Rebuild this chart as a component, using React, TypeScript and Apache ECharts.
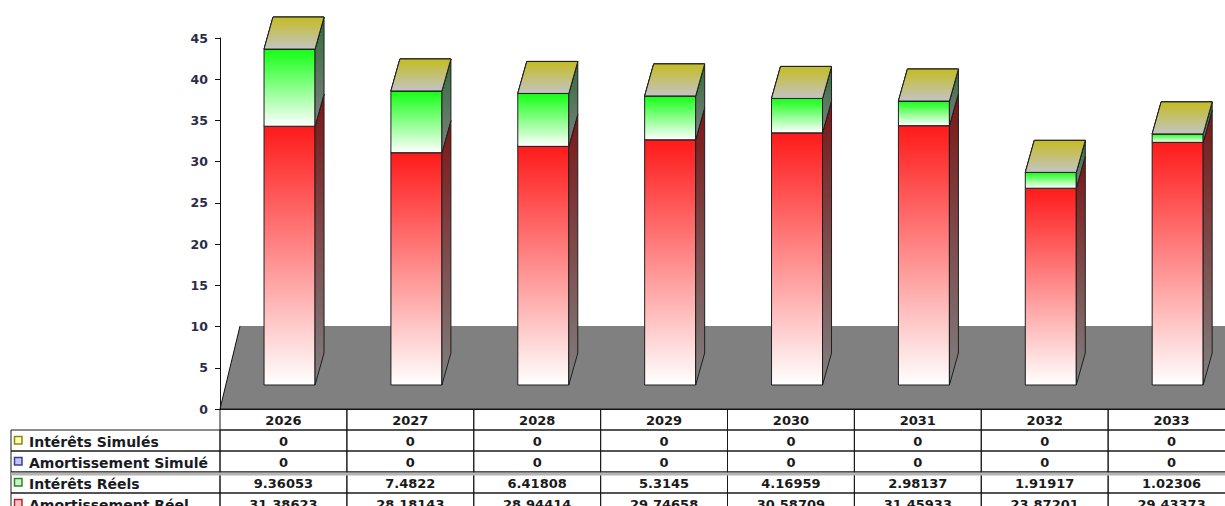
import React, { useEffect, useRef } from "react";
import * as echarts from "echarts";

// ---------- data ----------
const categories = ["2026", "2027", "2028", "2029", "2030", "2031", "2032", "2033"];
const interetsSimules = [0, 0, 0, 0, 0, 0, 0, 0];
const amortissementSimule = [0, 0, 0, 0, 0, 0, 0, 0];
const interetsReels = [9.36053, 7.4822, 6.41808, 5.3145, 4.16959, 2.98137, 1.91917, 1.02306];
const amortissementReel = [31.38623, 28.18143, 28.94414, 29.74658, 30.58709, 31.45933, 23.87201, 29.43373];
const yMin = 0;
const yMax = 45;
const yStep = 5;

// table rows (top to bottom)
const tableRows = [
  { name: "Intérêts Simulés", values: interetsSimules, iconFill: "#ffffb4", iconStroke: "#8c8a10" },
  { name: "Amortissement Simulé", values: amortissementSimule, iconFill: "#c4c4f4", iconStroke: "#3c3c9c" },
  { name: "Intérêts Réels", values: interetsReels, iconFill: "#c8f4c8", iconStroke: "#2a8a2a" },
  { name: "Amortissement Réel", values: amortissementReel, iconFill: "#f8c4c4", iconStroke: "#c02424" },
];

// stacking (bottom to top)
const stackOrder = [
  { name: "Amortissement Réel", values: amortissementReel, front: "#ff1a1a", side: "#7c1616", top: ["#c43a3a", "#c0c0c0"] },
  { name: "Intérêts Réels", values: interetsReels, front: "#14ff14", side: "#2f6e3a", top: ["#4aa84a", "#c0c0c0"] },
  { name: "Amortissement Simulé", values: amortissementSimule, front: "#3a3aff", side: "#20207a", top: ["#5a5ab8", "#c0c0c0"] },
  { name: "Intérêts Simulés", values: interetsSimules, front: "#ffff1a", side: "#7a7a16", top: ["#c4bc22", "#c4c4c4"] },
];

// ---------- geometry / style constants ----------
const FONT = "DejaVu Sans";
const DX = 9; // depth offset x
const DY = 32; // depth offset y
const LIFT = 24; // bars sit this far back on the floor
const BAR_W = 51;
const BAR_SHIFT = -19.4; // front-left edge relative to category centre
const FLOOR_DX = 20;
const FLOOR_DY = 83;
const EDGE = "#1e1e1e";
const HEADER_H = 21;
const ROW_H = 21;
const LABEL_X0 = 11;

function grad(c0: string, c1: string) {
  return new echarts.graphic.LinearGradient(0, 0, 0, 1, [
    { offset: 0, color: c0 },
    { offset: 1, color: c1 },
  ]);
}

function makeBarRenderer(s: (typeof stackOrder)[number]) {
  return (params: any, api: any) => {
    const i = api.value(0);
    const lo = api.value(1);
    const hi = api.value(2);
    const pLo = api.coord([i, lo]);
    const pHi = api.coord([i, hi]);
    const x = pLo[0] + BAR_SHIFT;
    const yb = pLo[1] - LIFT;
    const yt = pHi[1] - LIFT;
    const children: any[] = [];
    if (yb - yt > 0.3) {
      children.push({
        type: "rect",
        shape: { x, y: yt, width: BAR_W, height: yb - yt },
        style: { fill: grad(s.front, "#ffffff"), stroke: EDGE, lineWidth: 1 },
      });
      children.push({
        type: "polygon",
        shape: {
          points: [
            [x + BAR_W, yt],
            [x + BAR_W + DX, yt - DY],
            [x + BAR_W + DX, yb - DY],
            [x + BAR_W, yb],
          ],
        },
        style: { fill: grad(s.side, "#808080"), stroke: EDGE, lineWidth: 1 },
      });
    }
    children.push({
      type: "polygon",
      shape: {
        points: [
          [x, yt],
          [x + DX, yt - DY],
          [x + BAR_W + DX, yt - DY],
          [x + BAR_W, yt],
        ],
      },
      style: { fill: grad(s.top[0], s.top[1]), stroke: EDGE, lineWidth: 1 },
    });
    return { type: "group", children };
  };
}

export default function App() {
  const ref = useRef<HTMLDivElement>(null);

  useEffect(() => {
    if (!ref.current) return;
    const chart = echarts.init(ref.current, null, { renderer: "svg" });

    // stacked ranges
    const cum = categories.map(() => 0);
    const barSeries = stackOrder.map((s) => {
      const data = categories.map((_, i) => {
        const lo = cum[i];
        const hi = lo + s.values[i];
        cum[i] = hi;
        return [i, lo, hi];
      });
      return {
        type: "custom",
        name: s.name,
        z: 3,
        renderItem: makeBarRenderer(s),
        encode: { x: 0, y: [1, 2] },
        data,
      };
    });

    const floorSeries = {
      type: "custom",
      name: "floor",
      z: 1,
      silent: true,
      renderItem: (params: any, api: any) => {
        const cs = params.coordSys;
        const left = cs.x;
        const bottom = cs.y + cs.height;
        const right = api.getWidth();
        return {
          type: "group",
          children: [
            {
              type: "polygon",
              shape: {
                points: [
                  [left, bottom],
                  [left + FLOOR_DX, bottom - FLOOR_DY],
                  [right, bottom - FLOOR_DY],
                  [right, bottom],
                ],
              },
              style: { fill: "#808080" },
            },
            {
              type: "line",
              shape: { x1: left, y1: bottom, x2: left + FLOOR_DX, y2: bottom - FLOOR_DY },
              style: { stroke: "#111", lineWidth: 1 },
            },
          ],
        };
      },
      data: [[0, 0]],
    };

    const tableSeries = {
      type: "custom",
      name: "table",
      z: 4,
      silent: true,
      clip: false,
      renderItem: (params: any, api: any) => {
        const i = api.value(0);
        const c = api.coord([i, 0]);
        const w = api.size([1, 0])[0];
        const x0 = c[0] - w / 2;
        const top = c[1];
        const children: any[] = [];
        children.push({
          type: "rect",
          shape: { x: x0, y: top, width: w, height: HEADER_H },
          style: { fill: "none", stroke: "#1a1a1a", lineWidth: 1 },
        });
        tableRows.forEach((row, r) => {
          const y = top + HEADER_H + r * ROW_H;
          children.push({
            type: "rect",
            shape: { x: x0, y, width: w, height: ROW_H },
            style: { fill: "none", stroke: "#1a1a1a", lineWidth: 1 },
          });
          children.push({
            type: "text",
            style: {
              x: c[0],
              y: y + ROW_H / 2 + 1,
              text: String(row.values[i]),
              fill: "#1a1a1a",
              font: `bold 13px "${FONT}"`,
              align: "center",
              verticalAlign: "middle",
            },
          });
        });
        return { type: "group", children };
      },
      data: categories.map((_, i) => [i, 0]),
    };

    // label column of the table
    const tableTop = 409 + HEADER_H;
    const labelGraphics: any[] = [];
    tableRows.forEach((row, r) => {
      const y = tableTop + r * ROW_H;
      labelGraphics.push({
        type: "rect",
        shape: { x: LABEL_X0, y, width: 220 - LABEL_X0, height: ROW_H },
        style: { fill: "none", stroke: "#1a1a1a", lineWidth: 1 },
      });
      labelGraphics.push({
        type: "rect",
        shape: { x: 14.5, y: y + 6.5, width: 7.5, height: 7.5 },
        style: { fill: row.iconFill, stroke: row.iconStroke, lineWidth: 1.5 },
      });
      labelGraphics.push({
        type: "text",
        style: {
          x: 29,
          y: y + ROW_H / 2 + 1,
          text: row.name,
          fill: "#1a1a24",
          font: `bold 14px "${FONT}"`,
          align: "left",
          verticalAlign: "middle",
        },
      });
    });
    // gray separator between simulated and real rows
    labelGraphics.push({
      type: "line",
      shape: { x1: LABEL_X0, y1: tableTop + 2 * ROW_H + 2, x2: 1225, y2: tableTop + 2 * ROW_H + 2 },
      style: { stroke: "#b4b4b4", lineWidth: 3 },
      z: 10,
    });

    chart.setOption({
      animation: false,
      textStyle: { fontFamily: FONT },
      grid: {
        left: 220,
        top: 38,
        width: 1015,
        height: 371,
        containLabel: false,
        outerBoundsMode: "none",
      },
      xAxis: {
        type: "category",
        data: categories,
        boundaryGap: true,
        axisLine: { show: true, lineStyle: { color: "#111", width: 1 } },
        axisTick: { show: false },
        axisLabel: {
          show: true,
          interval: 0,
          margin: 5,
          color: "#1a1a1a",
          fontFamily: FONT,
          fontWeight: "bold",
          fontSize: 13,
        },
        splitLine: { show: false },
        z: 5,
      },
      yAxis: {
        type: "value",
        min: yMin,
        max: yMax,
        interval: yStep,
        axisLine: { show: true, lineStyle: { color: "#111", width: 1 } },
        axisTick: { show: true, length: 5, lineStyle: { color: "#111" } },
        axisLabel: {
          margin: 12,
          color: "#2c2c48",
          fontFamily: FONT,
          fontWeight: "bold",
          fontSize: 12.5,
        },
        splitLine: { show: false },
        z: 5,
      },
      graphic: labelGraphics,
      series: [floorSeries, ...barSeries, tableSeries],
    });

    return () => {
      chart.dispose();
    };
  }, []);

  return (
    <div
      ref={ref}
      style={{ position: "fixed", left: 0, top: 0, width: 1225, height: 506, background: "#ffffff" }}
    />
  );
}
